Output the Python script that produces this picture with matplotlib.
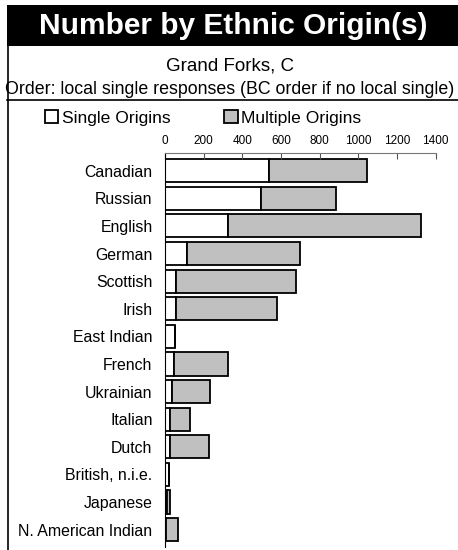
import matplotlib
matplotlib.use("Agg")
import matplotlib.pyplot as plt
from matplotlib.patches import Rectangle
from matplotlib.lines import Line2D
import numpy as np

plt.rcParams['font.family'] = ['Liberation Sans', 'DejaVu Sans']

# data
categories = ['Canadian', 'Russian', 'English', 'German', 'Scottish', 'Irish',
              'East Indian', 'French', 'Ukrainian', 'Italian', 'Dutch',
              'British, n.i.e.', 'Japanese', 'N. American Indian']
single = [537, 497, 326, 114, 59, 59, 53, 45, 35, 28, 24, 21, 10, 5]
multiple = [509, 390, 996, 582, 618, 521, 0, 281, 196, 100, 204, 0, 18, 60]
xticks = [0, 200, 400, 600, 800, 1000, 1200, 1400]

W, H = 458, 550
fig = plt.figure(figsize=(W / 100, H / 100), dpi=100)

# title band + frame
fig.patches.append(Rectangle((7 / W, 1 - 46 / H), (W - 7) / W, 41 / H,
                             transform=fig.transFigure, facecolor='black',
                             edgecolor='none'))
fig.lines.append(Line2D([7.5 / W, 7.5 / W], [0, 1 - 46 / H], transform=fig.transFigure,
                        color='black', lw=1.2))
fig.lines.append(Line2D([7 / W, 1], [1 - 100 / H, 1 - 100 / H], transform=fig.transFigure,
                        color='black', lw=1.2))
fig.text(0.5 + 4 / W, 1 - 26 / H, 'Number by Ethnic Origin(s)', color='white',
         fontsize=21.5, fontweight='bold', ha='center', va='center')
fig.text(0.5 + 1 / W, 1 - 66 / H, 'Grand Forks, C', fontsize=13.5, ha='center', va='center')
fig.text(0.5 + 1 / W, 1 - 89 / H, 'Order: local single responses (BC order if no local single)',
         fontsize=12.8, ha='center', va='center')

ax = fig.add_axes([165 / W, 3 / H, 270.6 / W, (547 - 153) / H])
y = np.arange(len(categories))
ax.barh(y, single, height=0.84, color='white', edgecolor='black', lw=1.3,
        label='Single Origins')
ax.barh(y, multiple, left=single, height=0.84, color='#c0c0c0', edgecolor='black',
        lw=1.3, label='Multiple Origins')
ax.set_xlim(0, 1400)
ax.set_ylim(len(categories) - 1 + 0.63, -0.64)
ax.set_yticks(y)
ax.set_yticklabels(categories, fontsize=11.4)
ax.tick_params(axis='y', length=0, pad=9)
ax.xaxis.tick_top()
ax.set_xticks(xticks)
ax.set_xticklabels([str(t) for t in xticks], fontsize=8.5)
ax.tick_params(axis='x', direction='in', length=4, width=0.8, color='#555555', pad=4)
for s in ['right', 'bottom']:
    ax.spines[s].set_visible(False)
ax.spines['top'].set_color('#777777')
ax.spines['left'].set_color('black')

fig.legend(loc='center', bbox_to_anchor=(203 / W, 1 - 118 / H), ncol=2, frameon=False,
           fontsize=12.6, handlelength=0.75, handleheight=0.75, handletextpad=0.2,
           columnspacing=3.1, borderaxespad=0)

fig.savefig('out.png', dpi=100)
